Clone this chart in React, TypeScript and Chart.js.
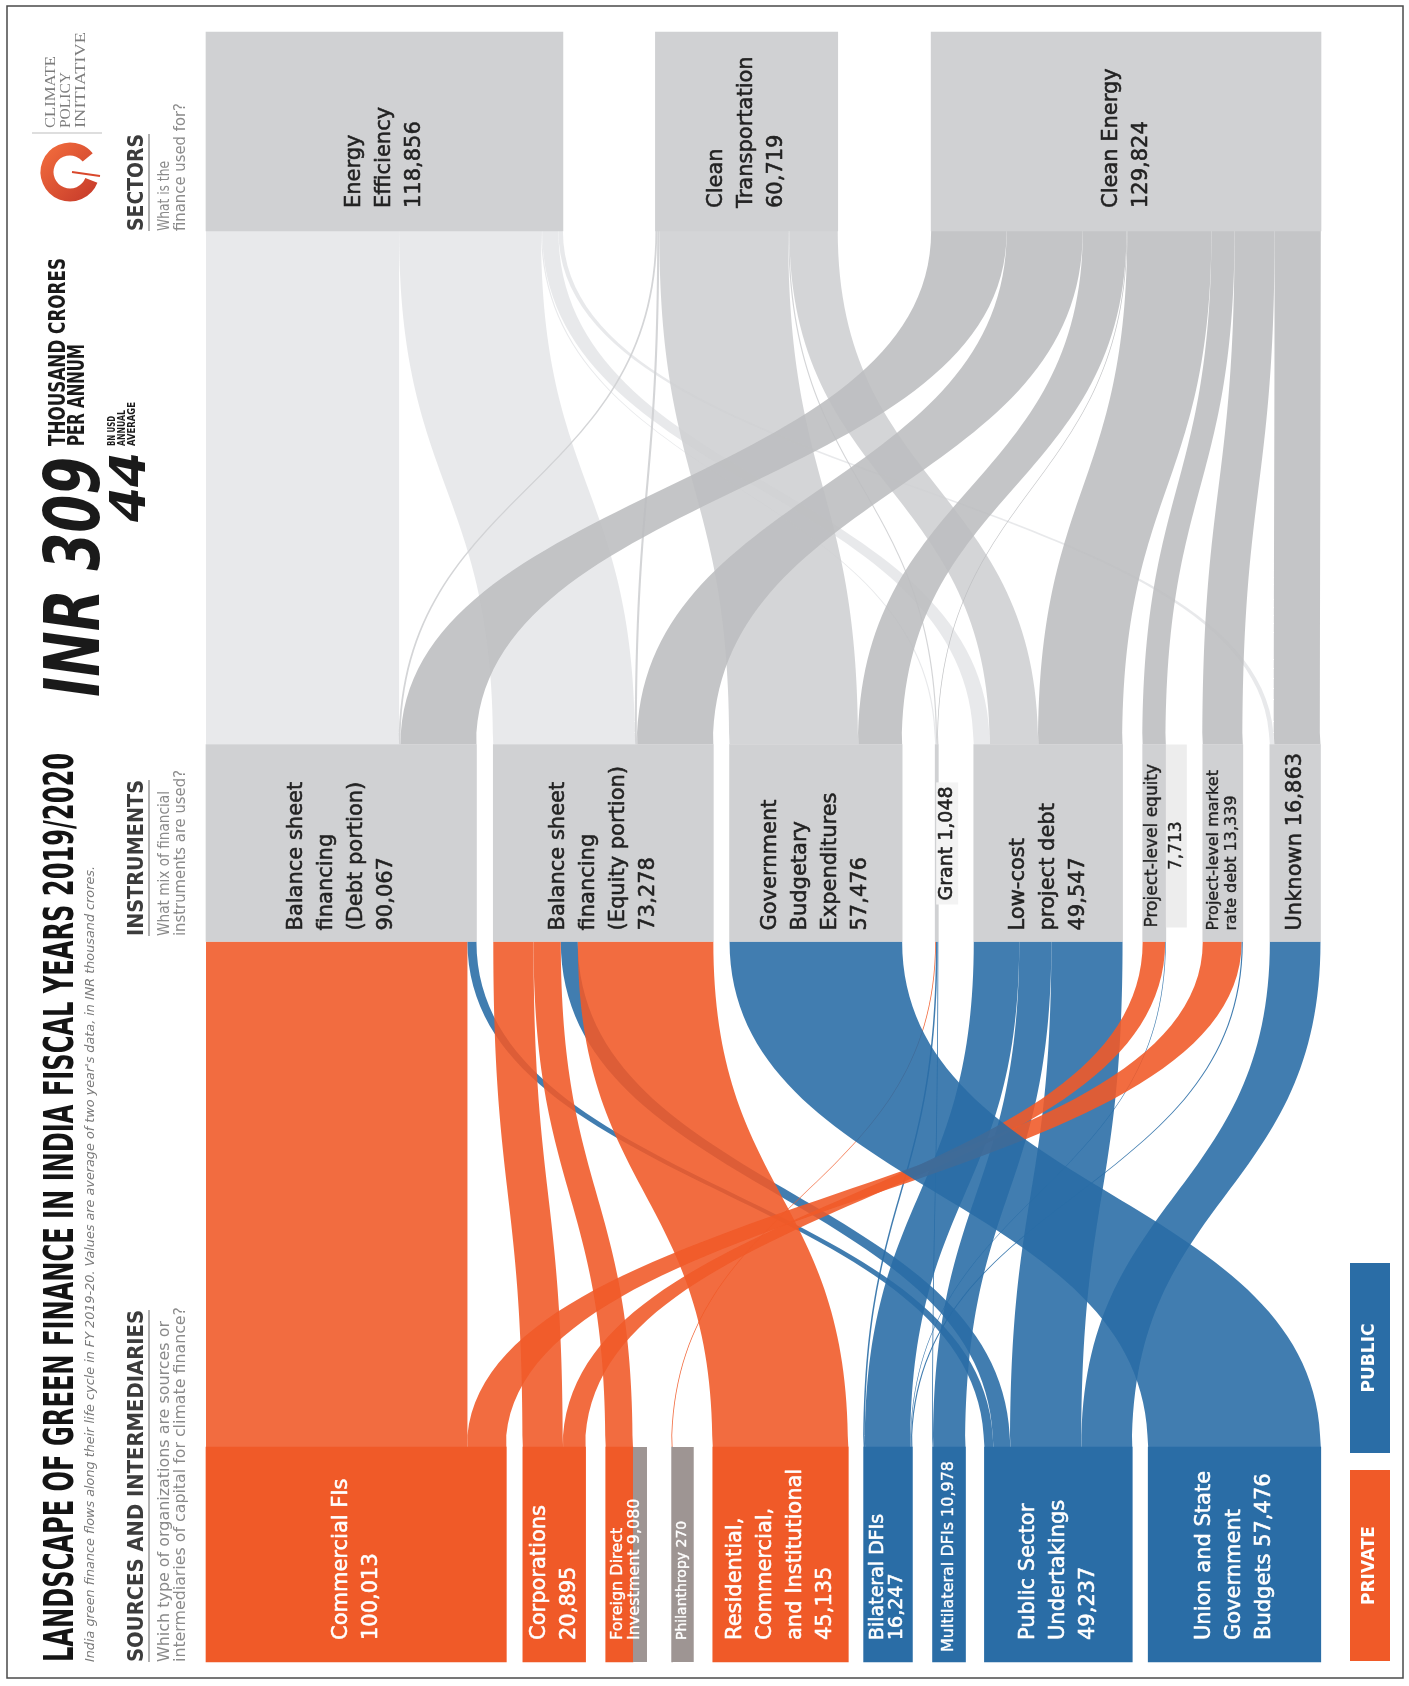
import React, { useEffect, useRef } from 'react';
import { Chart, registerables } from 'chart.js';

Chart.register(...registerables);

// ---------------- DATA ----------------
const STAGES = ['Sectors', 'Instruments', 'Sources'];

const SOURCE_NAMES = [
  'Commercial FIs',
  'Corporations',
  'Foreign Direct Investment',
  'Philanthropy',
  'Residential, Commercial, and Institutional',
  'Bilateral DFIs',
  'Multilateral DFIs',
  'Public Sector Undertakings',
  'Union and State Government Budgets',
];
const SOURCE_VALUES = [100013, 20895, 9080, 270, 45135, 16247, 10978, 49237, 57476];
const SOURCE_KINDS = ['PRIVATE', 'PRIVATE', 'PRIVATE', 'PRIVATE', 'PRIVATE', 'PUBLIC', 'PUBLIC', 'PUBLIC', 'PUBLIC'];
const SOURCE_LABELS = [
  ['Commercial FIs', '{v}'],
  ['Corporations', '{v}'],
  ['Foreign Direct', 'Investment {v}'],
  ['Philanthropy {v}'],
  ['Residential,', 'Commercial,', 'and Institutional', '{v}'],
  ['Bilateral DFIs', '{v}'],
  ['Multilateral DFIs {v}'],
  ['Public Sector', 'Undertakings', '{v}'],
  ['Union and State', 'Government', 'Budgets {v}'],
];

const INSTRUMENT_NAMES = [
  'Balance sheet financing (Debt portion)',
  'Balance sheet financing (Equity portion)',
  'Government Budgetary Expenditures',
  'Grant',
  'Low-cost project debt',
  'Project-level equity',
  'Project-level market rate debt',
  'Unknown',
];
const INSTRUMENT_VALUES = [90067, 73278, 57476, 1048, 49547, 7713, 13339, 16863];
const INSTRUMENT_LABELS = [
  ['Balance sheet', 'financing', '(Debt portion)', '{v}'],
  ['Balance sheet', 'financing', '(Equity portion)', '{v}'],
  ['Government', 'Budgetary', 'Expenditures', '{v}'],
  ['Grant {v}'],
  ['Low-cost', 'project debt', '{v}'],
  ['Project-level equity', '{v}'],
  ['Project-level market', 'rate debt {v}'],
  ['Unknown {v}'],
];

const SECTOR_NAMES = ['Energy Efficiency', 'Clean Transportation', 'Clean Energy'];
const SECTOR_VALUES = [118856, 60719, 129824];
const SECTOR_LABELS = [
  ['Energy', 'Efficiency', '{v}'],
  ['Clean', 'Transportation', '{v}'],
  ['Clean Energy', '{v}'],
];

const SOURCE_TO_INSTRUMENT: [string, string, number][] = [
  ['Commercial FIs', 'Balance sheet financing (Debt portion)', 87060],
  ['Public Sector Undertakings', 'Balance sheet financing (Debt portion)', 3007],
  ['Corporations', 'Balance sheet financing (Equity portion)', 13400],
  ['Foreign Direct Investment', 'Balance sheet financing (Equity portion)', 9080],
  ['Public Sector Undertakings', 'Balance sheet financing (Equity portion)', 5663],
  ['Residential, Commercial, and Institutional', 'Balance sheet financing (Equity portion)', 45135],
  ['Philanthropy', 'Grant', 270],
  ['Bilateral DFIs', 'Grant', 500],
  ['Multilateral DFIs', 'Grant', 278],
  ['Bilateral DFIs', 'Low-cost project debt', 15143],
  ['Multilateral DFIs', 'Low-cost project debt', 10700],
  ['Public Sector Undertakings', 'Low-cost project debt', 23704],
  ['Corporations', 'Project-level equity', 7495],
  ['Bilateral DFIs', 'Project-level equity', 218],
  ['Commercial FIs', 'Project-level market rate debt', 12953],
  ['Bilateral DFIs', 'Project-level market rate debt', 386],
  ['Public Sector Undertakings', 'Unknown', 16863],
  ['Union and State Government Budgets', 'Government Budgetary Expenditures', 57476],
];

const INSTRUMENT_TO_SECTOR: [string, string, number][] = [
  ['Balance sheet financing (Debt portion)', 'Energy Efficiency', 64300],
  ['Balance sheet financing (Equity portion)', 'Energy Efficiency', 47256],
  ['Grant', 'Energy Efficiency', 400],
  ['Low-cost project debt', 'Energy Efficiency', 5400],
  ['Unknown', 'Energy Efficiency', 1500],
  ['Balance sheet financing (Debt portion)', 'Clean Transportation', 600],
  ['Balance sheet financing (Equity portion)', 'Clean Transportation', 700],
  ['Government Budgetary Expenditures', 'Clean Transportation', 42900],
  ['Grant', 'Clean Transportation', 400],
  ['Low-cost project debt', 'Clean Transportation', 16119],
  ['Balance sheet financing (Debt portion)', 'Clean Energy', 25167],
  ['Balance sheet financing (Equity portion)', 'Clean Energy', 25322],
  ['Government Budgetary Expenditures', 'Clean Energy', 14576],
  ['Grant', 'Clean Energy', 248],
  ['Low-cost project debt', 'Clean Energy', 28028],
  ['Project-level equity', 'Clean Energy', 7713],
  ['Project-level market rate debt', 'Clean Energy', 13339],
  ['Unknown', 'Clean Energy', 15363],
];

const LEGEND_LABELS = ['PUBLIC', 'PRIVATE'];

// ---------------- LAYOUT & STYLE ----------------
const W = 1409;
const H = 1686;
const X_MAX = 371300;
const SOURCE_GAPS = [0, 5500, 6700, 12900, 13400, 5100, 6700, 6300, 5300];
const INSTRUMENT_GAPS = [0, 5600, 5400, 11000, 11800, 6700, 12300, 9000];
const SECTOR_GAPS = [0, 30800, 31100];
const STAGE_THICKNESS = [199, 197, 215];

const ORANGE = '#f05a28';
const BLUE = '#2a6da6';
const TAUPE = '#9e9593';
const NODE_GREY = '#d0d1d3';
const FLOW_ALPHA = 0.89;
const KIND_COLOR: Record<string, string> = { PRIVATE: ORANGE, PUBLIC: BLUE };
const SECTOR_FLOW_COLORS = ['rgba(229,230,232,0.89)', 'rgba(207,208,210,0.89)', 'rgba(189,190,192,0.89)'];
const SOURCE_NODE_COLORS = [ORANGE, ORANGE, ORANGE, TAUPE, ORANGE, BLUE, BLUE, BLUE, BLUE];

const LABEL_FONT = '"DejaVu Sans", Verdana, sans-serif';
const NARROW = '"Liberation Sans Narrow", "DejaVu Sans Condensed", "Liberation Sans", Arial, sans-serif';

type Style = {
  size: number;
  lh: number;
  pad?: number;
  centerBlock?: boolean;
  box?: { side: 'start' | 'end'; w: number; color: string; insetBottom?: number };
  textBox?: { w: number; color: string };
};

const SOURCE_STYLE: Style[] = [
  { size: 21, lh: 30 },
  { size: 21, lh: 30 },
  { size: 16, lh: 17, box: { side: 'end', w: 14, color: TAUPE } },
  { size: 14, lh: 16, box: { side: 'start', w: 22, color: TAUPE } },
  { size: 21, lh: 30 },
  { size: 19, lh: 19 },
  { size: 16, lh: 18, pad: 10 },
  { size: 21, lh: 30 },
  { size: 21, lh: 30 },
];
const INSTRUMENT_STYLE: Style[] = [
  { size: 21, lh: 30 },
  { size: 21, lh: 30 },
  { size: 21, lh: 30 },
  { size: 19, lh: 20, pad: 41, textBox: { w: 22, color: '#f3f3f3' } },
  { size: 21, lh: 30 },
  { size: 17, lh: 24, pad: 14, centerBlock: true, box: { side: 'end', w: 21, color: '#ededed', insetBottom: 14 } },
  { size: 16, lh: 18 },
  { size: 21, lh: 30 },
];
const SECTOR_STYLE: Style[] = [{ size: 21, lh: 30 }, { size: 21, lh: 30 }, { size: 21, lh: 30 }];
const STAGE_PAD = [23, 11, 22];
const STAGE_TEXT = ['#222222', '#222222', '#ffffff'];

const LEGEND_BOXES = [
  { color: BLUE, x0: 1350, x1: 1390, y0: 1263, y1: 1453 },
  { color: ORANGE, x0: 1350, x1: 1390, y0: 1470, y1: 1661 },
];

// ---------------- HELPERS ----------------
type NodeInfo = {
  name: string;
  value: number;
  stage: number;
  index: number;
  start: number;
  end: number;
  color: string;
  labels: string[];
  style: Style;
  ds: number;
};

const fmt = (v: number) => v.toLocaleString('en-US');

function rgba(hex: string, a: number) {
  const n = parseInt(hex.slice(1), 16);
  return `rgba(${(n >> 16) & 255},${(n >> 8) & 255},${n & 255},${a})`;
}

function buildColumn(
  names: string[], values: number[], gaps: number[], stage: number,
  colors: string[], labels: string[][], styles: Style[], out: NodeInfo[],
) {
  let pos = 0;
  names.forEach((name, i) => {
    pos += gaps[i];
    const start = pos;
    pos += values[i];
    out.push({ name, value: values[i], stage, index: i, start, end: pos, color: colors[i], labels: labels[i], style: styles[i], ds: out.length });
  });
}

function rotText(
  ctx: CanvasRenderingContext2D, text: string, x: number, y: number, font: string, color: string,
  fit?: number, align: CanvasTextAlign = 'left', baseline: CanvasTextBaseline = 'alphabetic', strokeW = 0,
) {
  ctx.save();
  ctx.font = font;
  ctx.fillStyle = color;
  ctx.textAlign = align;
  ctx.textBaseline = baseline;
  ctx.translate(x, y);
  ctx.rotate(-Math.PI / 2);
  if (fit) {
    const w = ctx.measureText(text).width;
    if (w > 0) ctx.scale(fit / w, 1);
  }
  ctx.fillText(text, 0, 0);
  if (strokeW > 0) {
    ctx.strokeStyle = color;
    ctx.lineWidth = strokeW;
    ctx.lineJoin = 'round';
    ctx.strokeText(text, 0, 0);
  }
  ctx.restore();
}

function flowPath(ctx: CanvasRenderingContext2D, sa: number, sb: number, y0: number, ta: number, tb: number, y1: number) {
  const ym = (y0 + y1) / 2;
  ctx.beginPath();
  ctx.moveTo(sa, y0);
  ctx.bezierCurveTo(sa, ym, ta, ym, ta, y1);
  ctx.lineTo(tb, y1);
  ctx.bezierCurveTo(tb, ym, sb, ym, sb, y0);
  ctx.closePath();
}

function hLine(ctx: CanvasRenderingContext2D, x: number, y0: number, y1: number, color: string, w: number) {
  ctx.save();
  ctx.strokeStyle = color;
  ctx.lineWidth = w;
  ctx.beginPath();
  ctx.moveTo(x, y0);
  ctx.lineTo(x, y1);
  ctx.stroke();
  ctx.restore();
}

function drawHeader(ctx: CanvasRenderingContext2D) {
  // frame
  ctx.save();
  ctx.strokeStyle = '#4a4a4a';
  ctx.lineWidth = 1.5;
  ctx.strokeRect(7, 6, 1396, 1672);
  ctx.restore();

  rotText(ctx, 'LANDSCAPE OF GREEN FINANCE IN INDIA FISCAL YEARS 2019/2020', 73, 1662, `bold 41px ${NARROW}`, '#141414', 909);
  rotText(ctx, "India green finance flows along their life cycle in FY 2019-20. Values are average of two year's data, in INR thousand crores.", 94, 1662, `italic 12px ${NARROW}`, '#7a7a7a', 796);

  const head = `bold 22px ${NARROW}`;
  const desc = `15px ${NARROW}`;
  rotText(ctx, 'SOURCES AND INTERMEDIARIES', 143, 1662, head, '#3c3c3c', 352);
  hLine(ctx, 149, 1662, 1310, '#9a9a9a', 1.5);
  rotText(ctx, 'Which type of organizations are sources or', 169, 1662, desc, '#8a8a8a', 341);
  rotText(ctx, 'intermediaries of capital for climate finance?', 185, 1662, desc, '#8a8a8a', 355);

  rotText(ctx, 'INSTRUMENTS', 143, 936, head, '#3c3c3c', 156);
  hLine(ctx, 149, 936, 780, '#9a9a9a', 1.5);
  rotText(ctx, 'What mix of financial', 169, 936, desc, '#8a8a8a', 145);
  rotText(ctx, 'instruments are used?', 185, 936, desc, '#8a8a8a', 166);

  rotText(ctx, 'SECTORS', 143, 231, head, '#3c3c3c', 97);
  hLine(ctx, 149, 231, 134, '#9a9a9a', 1.5);
  rotText(ctx, 'What is the', 169, 231, desc, '#8a8a8a', 70);
  rotText(ctx, 'finance used for?', 185, 231, desc, '#8a8a8a', 128);

  rotText(ctx, 'INR 309', 99, 697, `italic bold 76px ${NARROW}`, '#1a1a1a', 240);
  rotText(ctx, 'THOUSAND CRORES', 65, 446, `bold 23px ${NARROW}`, '#1a1a1a', 188);
  rotText(ctx, 'PER ANNUM', 84, 446, `bold 23px ${NARROW}`, '#1a1a1a', 102);
  rotText(ctx, '44', 145, 522, `italic bold 50px ${NARROW}`, '#1a1a1a', 70);
  rotText(ctx, 'BN USD', 115, 446, `bold 11px ${NARROW}`, '#1a1a1a', 30);
  rotText(ctx, 'ANNUAL', 125, 446, `bold 11px ${NARROW}`, '#1a1a1a', 36);
  rotText(ctx, 'AVERAGE', 135, 446, `bold 11px ${NARROW}`, '#1a1a1a', 44);

  // logo
  ctx.save();
  const grad = ctx.createLinearGradient(45, 150, 95, 200);
  grad.addColorStop(0, '#f06a3c');
  grad.addColorStop(1, '#c63a2a');
  ctx.strokeStyle = grad;
  ctx.lineWidth = 13;
  ctx.beginPath();
  ctx.arc(70, 172, 23, 0.12 * Math.PI, 1.78 * Math.PI);
  ctx.stroke();
  ctx.strokeStyle = '#d9482c';
  ctx.lineWidth = 2;
  ctx.beginPath();
  ctx.moveTo(72, 172);
  ctx.lineTo(100, 176);
  ctx.stroke();
  ctx.strokeStyle = '#bdbdbd';
  ctx.lineWidth = 1;
  ctx.beginPath();
  ctx.moveTo(32, 133);
  ctx.lineTo(102, 133);
  ctx.stroke();
  ctx.restore();
  const serif = `15px "Liberation Serif", "DejaVu Serif", serif`;
  rotText(ctx, 'CLIMATE', 55, 128, serif, '#7d7d7d', 72);
  rotText(ctx, 'POLICY', 70, 128, serif, '#7d7d7d', 56);
  rotText(ctx, 'INITIATIVE', 85, 128, serif, '#7d7d7d', 96);

  // legend
  LEGEND_BOXES.forEach((b, i) => {
    ctx.fillStyle = b.color;
    ctx.fillRect(b.x0, b.y0, b.x1 - b.x0, b.y1 - b.y0);
    rotText(ctx, LEGEND_LABELS[i], (b.x0 + b.x1) / 2, (b.y0 + b.y1) / 2, `bold 17px ${LABEL_FONT}`, '#ffffff', undefined, 'center', 'middle');
  });
}

// ---------------- COMPONENT ----------------
export default function App() {
  const ref = useRef<HTMLCanvasElement>(null);

  useEffect(() => {
    const canvas = ref.current;
    if (!canvas) return;

    const nodes: NodeInfo[] = [];
    buildColumn(SECTOR_NAMES, SECTOR_VALUES, SECTOR_GAPS, 0, SECTOR_NAMES.map(() => NODE_GREY), SECTOR_LABELS, SECTOR_STYLE, nodes);
    buildColumn(INSTRUMENT_NAMES, INSTRUMENT_VALUES, INSTRUMENT_GAPS, 1, INSTRUMENT_NAMES.map(() => NODE_GREY), INSTRUMENT_LABELS, INSTRUMENT_STYLE, nodes);
    buildColumn(SOURCE_NAMES, SOURCE_VALUES, SOURCE_GAPS, 2, SOURCE_NODE_COLORS, SOURCE_LABELS, SOURCE_STYLE, nodes);
    const byName: Record<string, NodeInfo> = {};
    nodes.forEach((n) => { byName[n.name] = n; });

    const datasets = nodes.map((n) => ({
      label: n.name,
      data: STAGES.map((_, i) => (i === n.stage ? [n.start, n.end] : null)),
      backgroundColor: n.color,
      borderWidth: 0,
      barThickness: STAGE_THICKNESS[n.stage],
      grouped: false,
      clip: false as const,
    }));

    const nodeRect = (chart: any, n: NodeInfo) => {
      const el = chart.getDatasetMeta(n.ds).data[n.stage];
      const p = el.getProps(['x', 'base', 'y', 'height'], true);
      return {
        left: Math.min(p.x, p.base),
        right: Math.max(p.x, p.base),
        top: p.y - p.height / 2,
        bottom: p.y + p.height / 2,
      };
    };

    const sankeyPlugin = {
      id: 'sankeyFlows',
      beforeDatasetsDraw(chart: any) {
        const ctx: CanvasRenderingContext2D = chart.ctx;
        const xs = chart.scales.x;
        const drawLinks = (links: [string, string, number][], colorFor: (s: NodeInfo, t: NodeInfo) => string) => {
          const outOff: Record<string, number> = {};
          const inOff: Record<string, number> = {};
          links.forEach(([a, b, v]) => {
            const s = byName[a];
            const t = byName[b];
            const so = outOff[a] || 0;
            const ti = inOff[b] || 0;
            outOff[a] = so + v;
            inOff[b] = ti + v;
            const sa = xs.getPixelForValue(s.start + so);
            const sb = xs.getPixelForValue(s.start + so + v);
            const ta = xs.getPixelForValue(t.start + ti);
            const tb = xs.getPixelForValue(t.start + ti + v);
            const y0 = nodeRect(chart, s).top;
            const y1 = nodeRect(chart, t).bottom;
            ctx.fillStyle = colorFor(s, t);
            flowPath(ctx, sa, sb, y0, ta, tb, y1);
            ctx.fill();
          });
        };
        ctx.save();
        drawLinks(INSTRUMENT_TO_SECTOR, (_s, t) => SECTOR_FLOW_COLORS[t.index]);
        drawLinks(SOURCE_TO_INSTRUMENT, (s) => rgba(KIND_COLOR[SOURCE_KINDS[s.index]], FLOW_ALPHA));
        ctx.restore();
      },
      afterDatasetsDraw(chart: any) {
        const ctx: CanvasRenderingContext2D = chart.ctx;
        nodes.forEach((n) => {
          const r = nodeRect(chart, n);
          const st = n.style;
          let l = r.left;
          let rr = r.right;
          if (st.box) {
            const bx0 = st.box.side === 'end' ? r.right : r.left;
            ctx.fillStyle = st.box.color;
            ctx.fillRect(bx0, r.top, st.box.w, r.bottom - (st.box.insetBottom || 0) - r.top);
            l = Math.min(l, bx0);
            rr = Math.max(rr, bx0 + st.box.w);
          }
          const pad = st.pad ?? STAGE_PAD[n.stage];
          const sy = r.bottom - pad;
          const lines = n.labels.map((s) => s.replace('{v}', fmt(n.value)));
          ctx.save();
          ctx.font = `${st.size}px ${LABEL_FONT}`;
          const widths = lines.map((s) => ctx.measureText(s).width);
          ctx.restore();
          const maxW = Math.max(...widths);
          if (st.textBox) {
            const bx0 = r.left + 1;
            ctx.fillStyle = st.textBox.color;
            ctx.fillRect(bx0, sy - maxW - 4, st.textBox.w, maxW + 8);
            l = bx0;
            rr = bx0 + st.textBox.w;
          }
          const cx = (l + rr) / 2;
          lines.forEach((s, i) => {
            const x = cx + (i - (lines.length - 1) / 2) * st.lh;
            const off = st.centerBlock ? (maxW - widths[i]) / 2 : 0;
            rotText(ctx, s, x, sy - off, `${st.size}px ${LABEL_FONT}`, STAGE_TEXT[n.stage], undefined, 'left', 'middle', st.size >= 19 ? 0.55 : 0.35);
          });
        });
      },
      afterDraw(chart: any) {
        drawHeader(chart.ctx);
      },
    };

    const chart = new Chart(canvas, {
      type: 'bar',
      data: { labels: STAGES, datasets: datasets as any },
      options: {
        indexAxis: 'y',
        responsive: false,
        maintainAspectRatio: false,
        animation: false,
        devicePixelRatio: 1,
        events: [],
        layout: { padding: { left: 206, right: 88, top: 131.5, bottom: 131.5 } },
        scales: {
          x: { type: 'linear', min: 0, max: X_MAX, display: false },
          y: { type: 'category', offset: false, display: false },
        },
        plugins: { legend: { display: false }, tooltip: { enabled: false } },
      },
      plugins: [sankeyPlugin],
    } as any);

    return () => chart.destroy();
  }, []);

  return (
    <div style={{ position: 'absolute', left: 0, top: 0, width: W, height: H, background: '#ffffff' }}>
      <canvas ref={ref} width={W} height={H} style={{ display: 'block', width: W, height: H }} />
    </div>
  );
}
